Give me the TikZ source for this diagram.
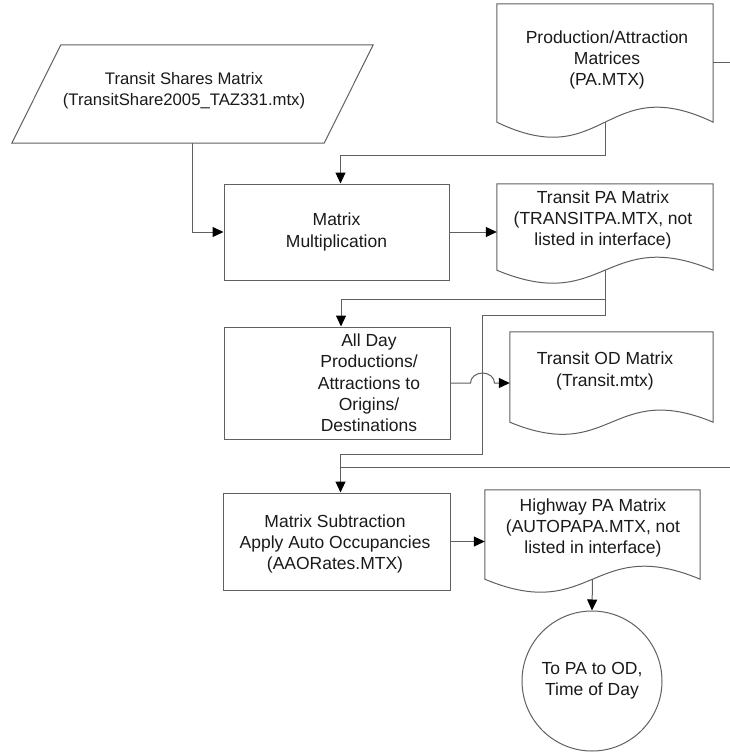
\documentclass[tikz,border=0pt]{standalone}
\usepackage{fontspec}
\setmainfont{Liberation Sans}
\usetikzlibrary{arrows.meta,calc}
\definecolor{linegray}{HTML}{606060}
\definecolor{inkc}{HTML}{1A1A1A}
\begin{document}
\begin{tikzpicture}[x=1pt,y=-1pt,
  line/.style={draw=linegray,line width=1pt},
  arr/.style={line,-{Triangle[length=11pt,width=10pt,color=black]}},
  box/.style={rectangle,draw=linegray,line width=1pt,inner sep=0pt},
  frame/.style={rectangle,draw=none,inner sep=0pt},
  txt/.style={font=\fontsize{17.5}{21.3}\selectfont,align=center,text=inkc,inner sep=0pt},
  outline/.style={draw=linegray,line width=1pt,line join=miter}]
\fill[white] (0,0) rectangle (730,753);
\useasboundingbox (0,0) rectangle (730,753);

% Transit shares (parallelogram)
\node[frame,minimum width=361pt,minimum height=98pt] (ts) at (192.5,94) {};
\draw[outline] ($(ts.north west)+(49,0)$) -- (ts.north east) -- ($(ts.south east)+(-49,0)$) -- (ts.south west) -- cycle;
\node[txt,font=\fontsize{16.7}{21}\selectfont] (tst) at (184,91) {Transit Shares Matrix\\(TransitShare2005\_TAZ331.mtx)};

% PA document
\node[frame,minimum width=216pt,minimum height=118pt] (pa) at (605,63) {};
\draw[outline] (pa.north west) -- (pa.north east) -- (pa.south east) .. controls ($(pa.south)+(0,-52)$) and ($(pa.south)+(0,52)$) .. (pa.south west) -- cycle;
\node[txt] (pat) at (607,60) {Production/Attraction\\Matrices\\(PA.MTX)};

% Matrix multiplication
\node[box,txt,minimum width=225pt,minimum height=96pt] (mm) at (336.5,232) {Matrix\\Multiplication};

% Transit PA document
\node[frame,minimum width=216pt,minimum height=86pt] (tpa) at (605,227) {};
\draw[outline] (tpa.north west) -- (tpa.north east) -- (tpa.south east) .. controls ($(tpa.south)+(0,-45)$) and ($(tpa.south)+(0,45)$) .. (tpa.south west) -- cycle;
\node[txt] (tpat) at (603,220) {Transit PA Matrix\\(TRANSITPA.MTX, not\\listed in interface)};

% All day box
\node[box,minimum width=226pt,minimum height=112pt] (ad) at (337,383) {};
\node[txt] (adt) at (369,383) {All Day\\Productions/\\Attractions to\\Origins/\\Destinations};

% Transit OD document
\node[frame,minimum width=203pt,minimum height=90pt] (tod) at (611.5,377) {};
\draw[outline] (tod.north west) -- (tod.north east) -- (tod.south east) .. controls ($(tod.south)+(0,-42)$) and ($(tod.south)+(0,42)$) .. (tod.south west) -- cycle;
\node[txt] (todt) at (605,371) {Transit OD Matrix\\(Transit.mtx)};

% Matrix subtraction
\node[box,minimum width=227pt,minimum height=97pt] (ms) at (336.5,541.5) {};
\node[txt] (mst) at (335,544) {Matrix Subtraction\\Apply Auto Occupancies\\(AAORates.MTX)};

% Highway PA document
\node[frame,minimum width=215pt,minimum height=89pt] (hw) at (592.5,534.5) {};
\draw[outline] (hw.north west) -- (hw.north east) -- (hw.south east) .. controls ($(hw.south)+(0,-45)$) and ($(hw.south)+(0,45)$) .. (hw.south west) -- cycle;
\node[txt] (hwt) at (593,528) {Highway PA Matrix\\(AUTOPAPA.MTX, not\\listed in interface)};

% Off-page connector circle
\node[circle,draw=linegray,line width=1pt,minimum size=140pt,txt] (circ) at (592,681) {To PA to OD,\\Time of Day};

% free ends / junctions
\coordinate (edgeA) at (730,62);
\coordinate (edgeB) at (730,467);
\coordinate (jog) at (482,454);

% connectors
\draw[arr] (ts.south) |- (mm.west);
\draw[arr] (pa.south) -- ++(0,33) -| ([xshift=4pt]mm.north);
\draw[line] (pa.east |- edgeA) -- (edgeA);
\draw[arr] (mm.east) -- (mm.east -| tpa.west);
\draw[arr] (tpa.south) -- ++(0,29) -| ([xshift=4pt]ad.north);
\draw[arr] (tpa.south) -- ++(0,45) -| (jog) -| ([xshift=4pt]ms.north);
\draw[line] (edgeB) -- ([xshift=4pt]ms.north |- edgeB);
\draw[arr] (ad.east) -- ++(20,0) arc[start angle=180,end angle=360,x radius=12,y radius=10] -- (ad.east -| tod.west);
\draw[arr] (ms.east) -- (ms.east -| hw.west);
\draw[arr] (hw.south) -- (circ.north);
\end{tikzpicture}
\end{document}
